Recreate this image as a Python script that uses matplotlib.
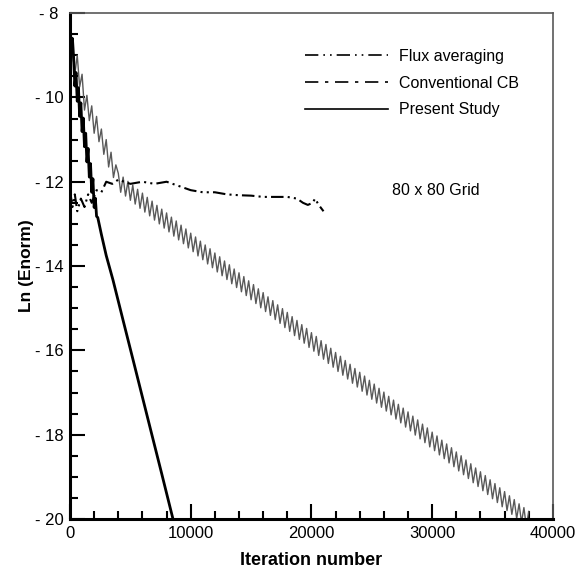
import matplotlib
matplotlib.use("Agg")
import matplotlib.pyplot as plt
import numpy as np
from matplotlib.lines import Line2D
from matplotlib.ticker import MultipleLocator, FixedLocator

plt.rcParams['font.family'] = ['Liberation Sans', 'DejaVu Sans']

# Present Study (solid) - fast decay, noisy start
present_x = [0, 100, 200, 300, 400, 500, 600, 700, 800, 900, 1000, 1100, 1200,
             1300, 1400, 1500, 1600, 1700, 1800, 1900, 2000, 2100, 2200, 2300,
             2600, 3000, 3560, 4400, 5220, 6000, 6790, 7600, 8530, 8700]
present_y = [-8.2, -8.8, -8.6, -9.05, -9.73, -9.41, -10.09, -9.77, -10.45, -10.13,
             -10.81, -10.49, -11.17, -10.85, -11.53, -11.21, -11.89, -11.57, -12.25,
             -11.93, -12.61, -12.39, -12.82, -12.85, -13.25, -13.75, -14.33, -15.29,
             -16.22, -17.11, -18.01, -18.93, -20.0, -20.2]

# Conventional CB (dashed) - oscillating band, sampled every 200 iterations
cb_x = np.arange(0, 38001, 200)
cb_y = [-9.6, -8.85, -9.45, -9.0, -9.75, -9.45, -10.3, -9.95, -10.55, -10.2,
        -10.85, -10.45, -11.05, -10.75, -11.35, -11.0, -11.65, -11.3, -11.9, -11.6,
        -11.80, -12.25, -11.89, -12.34, -11.99, -12.44, -12.08, -12.53, -12.18, -12.63,
        -12.27, -12.72, -12.37, -12.81, -12.46, -12.91, -12.56, -13.00, -12.65, -13.10,
        -12.74, -13.19, -12.84, -13.29, -12.93, -13.38, -13.03, -13.47, -13.12, -13.57,
        -13.22, -13.66, -13.31, -13.76, -13.41, -13.85, -13.50, -13.95, -13.59, -14.04,
        -13.69, -14.14, -13.78, -14.23, -13.88, -14.32, -13.97, -14.42, -14.07, -14.51,
        -14.16, -14.61, -14.25, -14.70, -14.35, -14.80, -14.44, -14.89, -14.54, -14.99,
        -14.63, -15.08, -14.73, -15.17, -14.82, -15.27, -14.92, -15.36, -15.01, -15.46,
        -15.10, -15.55, -15.20, -15.65, -15.29, -15.74, -15.39, -15.83, -15.48, -15.93,
        -15.58, -16.02, -15.67, -16.12, -15.77, -16.21, -15.86, -16.31, -15.95, -16.40,
        -16.05, -16.50, -16.14, -16.59, -16.24, -16.68, -16.33, -16.78, -16.43, -16.87,
        -16.52, -16.97, -16.61, -17.06, -16.71, -17.16, -16.80, -17.25, -16.90, -17.35,
        -16.99, -17.44, -17.09, -17.53, -17.18, -17.63, -17.28, -17.72, -17.37, -17.82,
        -17.46, -17.91, -17.56, -18.01, -17.65, -18.10, -17.75, -18.19, -17.84, -18.29,
        -17.94, -18.38, -18.03, -18.48, -18.13, -18.57, -18.22, -18.67, -18.31, -18.76,
        -18.41, -18.86, -18.50, -18.95, -18.60, -19.04, -18.69, -19.14, -18.79, -19.23,
        -18.88, -19.33, -18.97, -19.42, -19.07, -19.52, -19.16, -19.61, -19.26, -19.71,
        -19.35, -19.80, -19.45, -19.89, -19.54, -19.99, -19.64, -20.08, -19.73, -20.18,
        -19.82]

# Flux averaging (dash-dot-dot) - stalls near -12.4
flux_x = [0, 200, 400, 600, 900, 1200, 1500, 1800, 2200, 2600, 3000, 3500, 4000,
          5000, 6000, 7000, 8000, 9000, 10000, 11000, 12000, 13000, 14000, 15000,
          16000, 17000, 18000, 18800, 19300, 19700, 20100, 20300, 20600, 21000]
flux_y = [-12.2, -12.6, -12.3, -12.7, -12.4, -12.6, -12.3, -12.5, -12.2, -12.25,
          -12.0, -12.05, -11.95, -12.05, -12.0, -12.05, -12.0, -12.1, -12.2, -12.25,
          -12.25, -12.3, -12.32, -12.33, -12.36, -12.36, -12.36, -12.4, -12.5,
          -12.55, -12.5, -12.4, -12.55, -12.7]

labels = ["Flux averaging", "Conventional CB", "Present Study"]
yticks = [-8, -10, -12, -14, -16, -18, -20]
xticks = [0, 10000, 20000, 30000, 40000]

fig = plt.figure(figsize=(5.79, 5.70), dpi=100)
ax = fig.add_axes([0.1209, 0.0895, 0.834, 0.8875])

ax.plot(cb_x, cb_y, color='0.35', lw=1.0)
ax.plot(flux_x, flux_y, color='black', lw=1.5, ls=(0, (6, 2, 1, 2, 1, 2)))
ax.plot(present_x, present_y, color='black', lw=2.0)

ax.set_xlim(0, 40000)
ax.set_ylim(-20, -8)
ax.xaxis.set_major_locator(FixedLocator(xticks))
ax.xaxis.set_minor_locator(MultipleLocator(2000))
ax.yaxis.set_major_locator(FixedLocator(yticks))
ax.yaxis.set_minor_locator(MultipleLocator(0.5))
ax.set_yticklabels(["- %d" % abs(v) for v in yticks], ha='center')
ax.set_xticklabels([str(v) for v in xticks])
ax.tick_params(which='both', direction='in', top=False, right=False,
               labelsize=12, width=1.5)
ax.tick_params(which='major', length=11, pad=5)
ax.tick_params(axis='y', which='major', pad=15)
ax.tick_params(which='minor', length=6)

for s in ['left', 'bottom']:
    ax.spines[s].set_linewidth(2.2)
for s in ['top', 'right']:
    ax.spines[s].set_linewidth(1.2)
    ax.spines[s].set_color('0.35')

ax.set_xlabel("Iteration number", fontsize=13, fontweight='bold', labelpad=8)
ax.set_ylabel("Ln (Enorm)", fontsize=12.5, fontweight='bold')
ax.yaxis.set_label_coords(-0.074, 0.5)

handles = [Line2D([], [], color='black', lw=1.2, ls=(0, (8, 3, 1, 3, 1, 3))),
           Line2D([], [], color='black', lw=1.2, ls=(0, (8, 4, 2, 4))),
           Line2D([], [], color='black', lw=1.2)]
ax.legend(handles, labels, loc='upper left', bbox_to_anchor=(0.487, 0.93),
          frameon=False, fontsize=11.5, handlelength=5.2, handletextpad=0.7,
          labelspacing=0.75, borderpad=0, borderaxespad=0)

ax.text(26660, -12.2, "80 x 80 Grid", fontsize=11.5, va='center', ha='left')

fig.savefig("out.png", dpi=100)
